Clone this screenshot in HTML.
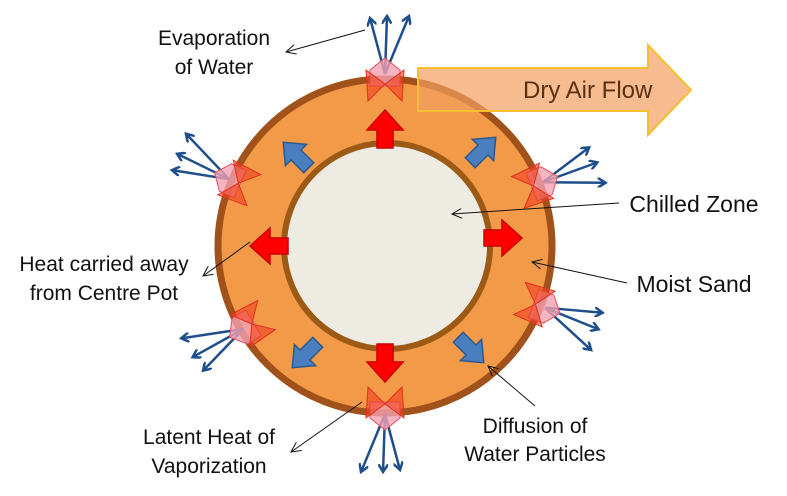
<!DOCTYPE html>
<html><head><style>body{margin:0;background:#fff}svg{display:block}text{font-family:"Liberation Sans",sans-serif;fill:#111}</style></head><body>
<svg width="787" height="496" viewBox="0 0 787 496" xmlns="http://www.w3.org/2000/svg">
<defs>
<marker id="bh" markerWidth="10" markerHeight="10" refX="8" refY="5" orient="auto" markerUnits="userSpaceOnUse"><path d="M0,0 L8,5 L0,10" fill="none" stroke="#1f4e8c" stroke-width="2.5"/></marker>
<marker id="kh" markerWidth="12" markerHeight="10" refX="10" refY="5" orient="auto" markerUnits="userSpaceOnUse"><path d="M0,0 L10,5 L0,10" fill="none" stroke="#111" stroke-width="1"/></marker>
<g id="burst">
<line x1="0" y1="-2" x2="-15" y2="-58" stroke="#1f4e8c" stroke-width="2.5" marker-end="url(#bh)"/>
<line x1="0" y1="-2" x2="2" y2="-60" stroke="#1f4e8c" stroke-width="2.5" marker-end="url(#bh)"/>
<line x1="0" y1="-2" x2="24" y2="-60" stroke="#1f4e8c" stroke-width="2.5" marker-end="url(#bh)"/>
<polygon points="0,-18 15,-6 15,10 -15,10 -15,-6" fill="#f4a0b0" fill-opacity="0.8" stroke="#e05060" stroke-width="1"/>
<polygon points="-19,-6 0,8 -17,25" fill="#f04020" fill-opacity="0.6" stroke="#e03020" stroke-width="1"/>
<polygon points="19,-6 0,8 17,25" fill="#f04020" fill-opacity="0.6" stroke="#e03020" stroke-width="1"/>
</g>
<path id="ra" d="M-8,18 L8,18 L8,0 L18,0 L0,-20 L-18,0 L-8,0 Z" fill="#f00" stroke="#c00" stroke-width="1.5"/>
<path id="ba" d="M-7,18 L7,18 L7,0 L15,0 L0,-18 L-15,0 L-7,0 Z" fill="#4a7ebf" stroke="#2c5a8f" stroke-width="1.5"/>
</defs>
<circle cx="385" cy="246" r="167" fill="#f29a48" stroke="#a0521a" stroke-width="7"/>
<circle cx="387" cy="246" r="103" fill="#eeebe3" stroke="#9c5a14" stroke-width="6"/>
<use href="#ra" transform="translate(385,130)"/>
<use href="#ra" transform="translate(385,362) rotate(180)"/>
<use href="#ra" transform="translate(270,246) rotate(-90)"/>
<use href="#ra" transform="translate(502,238) rotate(90)"/>
<use href="#ba" transform="translate(296,155) rotate(-45)"/>
<use href="#ba" transform="translate(483,150) rotate(45)"/>
<use href="#ba" transform="translate(305,355) rotate(-135)"/>
<use href="#ba" transform="translate(471,350) rotate(135)"/>
<use href="#burst" transform="translate(385,76)"/>
<use href="#burst" transform="translate(541,183) rotate(68)"/>
<use href="#burst" transform="translate(231,180) rotate(-66)"/>
<use href="#burst" transform="translate(245,328) rotate(-121)"/>
<use href="#burst" transform="translate(543,307) rotate(110)"/>
<use href="#burst" transform="translate(385,412) rotate(180)"/>
<path d="M418,68 L648,68 L648,45 L691,90 L648,135 L648,111 L418,111 Z" fill="#f2a060" fill-opacity="0.7" stroke="#f5c030" stroke-width="2"/>
<text x="523" y="98" font-size="24" style="fill:#5a3010">Dry Air Flow</text>
<line x1="365" y1="30" x2="286" y2="52" stroke="#111" marker-end="url(#kh)"/>
<line x1="619" y1="203" x2="452" y2="214" stroke="#111" marker-end="url(#kh)"/>
<line x1="627" y1="283" x2="532" y2="262" stroke="#111" marker-end="url(#kh)"/>
<line x1="250" y1="242" x2="203" y2="276" stroke="#111" marker-end="url(#kh)"/>
<line x1="362" y1="402" x2="291" y2="452" stroke="#111" marker-end="url(#kh)"/>
<line x1="535" y1="406" x2="488" y2="366" stroke="#111" marker-end="url(#kh)"/>
<text x="214" y="45" font-size="21" text-anchor="middle">Evaporation</text>
<text x="214" y="74" font-size="21" text-anchor="middle">of Water</text>
<text x="694" y="212" font-size="23" text-anchor="middle">Chilled Zone</text>
<text x="694" y="292" font-size="23" text-anchor="middle">Moist Sand</text>
<text x="104" y="271" font-size="21" text-anchor="middle">Heat carried away</text>
<text x="104" y="300" font-size="21" text-anchor="middle">from Centre Pot</text>
<text x="209" y="444" font-size="21" text-anchor="middle">Latent Heat of</text>
<text x="209" y="473" font-size="21" text-anchor="middle">Vaporization</text>
<text x="535" y="433" font-size="21" text-anchor="middle">Diffusion of</text>
<text x="535" y="461" font-size="21" text-anchor="middle">Water Particles</text>
</svg>
</body></html>
